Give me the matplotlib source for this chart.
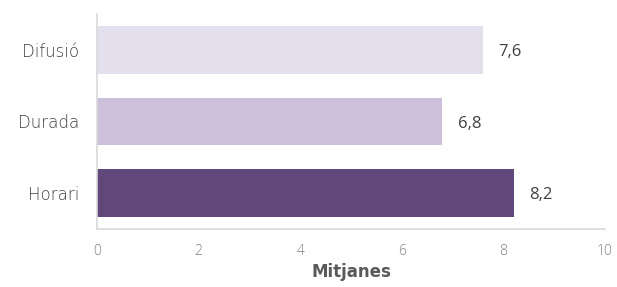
import matplotlib
matplotlib.use("Agg")
import matplotlib.pyplot as plt

categories = ["Horari", "Durada", "Difusió"]
values = [8.2, 6.8, 7.6]
value_labels = ["8,2", "6,8", "7,6"]
colors = ["#60497a", "#ccc0da", "#e4dfec"]
xticks = [0, 2, 4, 6, 8, 10]
xlabel = "Mitjanes"

plt.rcParams['font.family'] = ['DejaVu Sans']

fig = plt.figure(figsize=(6.17, 2.87), dpi=100)
ax = fig.add_axes([97/617, 1-229/287, (605-97)/617, (229-14)/287])

y = list(range(len(categories)))
ax.barh(y, values, height=0.667, color=colors)
for yi, v, lab in zip(y, values, value_labels):
    ax.text(v + 0.3, yi - 0.03, lab, va='center', ha='left', fontsize=12,
            color='#404040', fontfamily='Open Sans')

ax.set_xlim(0, 10)
ax.set_ylim(-0.5, 2.5)
ax.set_yticks(y)
ax.set_yticklabels(categories, fontsize=12, color='#404040', fontweight='light')
ax.set_xticks(xticks)
ax.set_xticklabels([str(t) for t in xticks], fontsize=10, color='#7f7f7f',
                   fontfamily='Open Sans', fontweight='light')
ax.tick_params(axis='both', length=0)
ax.tick_params(axis='y', pad=13)
ax.tick_params(axis='x', pad=11)
ax.set_xlabel(xlabel, fontsize=12, color='#595959', fontweight='bold',
              fontfamily='DejaVu Sans', labelpad=3)

for s in ['top', 'right']:
    ax.spines[s].set_visible(False)
for s in ['left', 'bottom']:
    ax.spines[s].set_color('#d9d9d9')
    ax.spines[s].set_linewidth(1.2)

fig.savefig("out.png", dpi=100)
